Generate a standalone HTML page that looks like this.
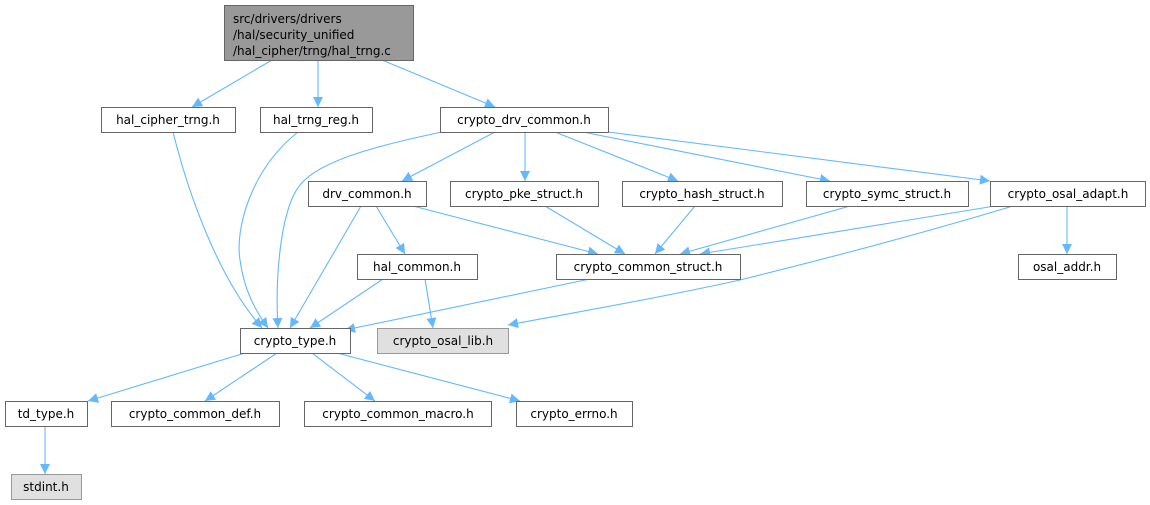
<!DOCTYPE html>
<html><head><meta charset="utf-8"><style>
html,body{margin:0;padding:0;background:#fff;width:1150px;height:505px;overflow:hidden}
text{font-family:"DejaVu Sans","Liberation Sans",sans-serif;font-size:12px;fill:#000}
</style></head><body>
<svg width="1150" height="505" viewBox="0 0 1150 505" xmlns="http://www.w3.org/2000/svg">
<defs><marker id="a" viewBox="0 0 10 10" refX="10" refY="5" markerUnits="userSpaceOnUse" markerWidth="13" markerHeight="10" orient="auto"><path d="M0,0 L10,5 L0,10 z" fill="#63b8ff"/></marker></defs>
<g fill="none" stroke="#63b8ff" stroke-width="1.1" marker-end="url(#a)">
<path d="M272,60 L192,107"/>
<path d="M318,60 L318,107"/>
<path d="M382,60 L495,107"/>
<path d="M173,132 C190,200 220,280 262,328"/>
<path d="M298,132 C250,170 235,230 240,260 C244,290 255,310 268,328"/>
<path d="M442,132 C380,145 320,160 300,185 C280,210 275,280 278,328"/>
<path d="M495,132 L402,181"/>
<path d="M525,132 L525,181"/>
<path d="M555,132 L678,181"/>
<path d="M583,132 L830,181"/>
<path d="M608,132 L990,181"/>
<path d="M361,206 L290,328"/>
<path d="M376,206 L405,254"/>
<path d="M413,206 L598,254"/>
<path d="M545,206 L625,254"/>
<path d="M695,206 L655,254"/>
<path d="M850,206 L680,254"/>
<path d="M995,206 L700,254"/>
<path d="M1013,206 C900,240 800,265 740,280 C650,300 560,315 508,325"/>
<path d="M1067,206 L1067,254"/>
<path d="M383,279 L310,328"/>
<path d="M425,279 L433,328"/>
<path d="M590,279 L345,330"/>
<path d="M245,353 L88,401"/>
<path d="M277,353 L205,401"/>
<path d="M312,353 L375,401"/>
<path d="M337,353 L520,401"/>
<path d="M45,427 L45,474"/>
</g>
<g stroke="#666" stroke-width="1" fill="#fff">
<rect x="224.5" y="5.5" width="189" height="55" fill="#999"/>
<rect x="101.5" y="107.5" width="134" height="25"/>
<rect x="260.5" y="107.5" width="112" height="25"/>
<rect x="440.5" y="107.5" width="168" height="25"/>
<rect x="308.5" y="181.5" width="118" height="25"/>
<rect x="450.5" y="181.5" width="148" height="25"/>
<rect x="622.5" y="181.5" width="160" height="25"/>
<rect x="806.5" y="181.5" width="162" height="25"/>
<rect x="990.5" y="181.5" width="155" height="25"/>
<rect x="357.5" y="254.5" width="120" height="25"/>
<rect x="556.5" y="254.5" width="184" height="25"/>
<rect x="1018.5" y="254.5" width="98" height="25"/>
<rect x="240.5" y="328.5" width="110" height="25"/>
<rect x="377.5" y="328.5" width="131" height="25" fill="#e0e0e0" stroke="#999"/>
<rect x="5.5" y="401.5" width="82" height="25"/>
<rect x="111.5" y="401.5" width="168" height="25"/>
<rect x="304.5" y="401.5" width="187" height="25"/>
<rect x="516.5" y="401.5" width="116" height="25"/>
<rect x="11.5" y="474.5" width="70" height="25" fill="#e0e0e0" stroke="#999"/>
</g>
<g style="font-size:12.5px">
<text x="233" y="23">src/drivers/drivers</text>
<text x="233" y="39">/hal/security_unified</text>
<text x="233" y="55">/hal_cipher/trng/hal_trng.c</text>
</g>
<g text-anchor="middle">
<text x="168" y="124">hal_cipher_trng.h</text>
<text x="316" y="124">hal_trng_reg.h</text>
<text x="524" y="124">crypto_drv_common.h</text>
<text x="367" y="198">drv_common.h</text>
<text x="524" y="198">crypto_pke_struct.h</text>
<text x="702" y="198">crypto_hash_struct.h</text>
<text x="887" y="198">crypto_symc_struct.h</text>
<text x="1068" y="198">crypto_osal_adapt.h</text>
<text x="417" y="271">hal_common.h</text>
<text x="648" y="271">crypto_common_struct.h</text>
<text x="1067" y="271">osal_addr.h</text>
<text x="295" y="345">crypto_type.h</text>
<text x="443" y="345">crypto_osal_lib.h</text>
<text x="46" y="418">td_type.h</text>
<text x="195" y="418">crypto_common_def.h</text>
<text x="398" y="418">crypto_common_macro.h</text>
<text x="574" y="418">crypto_errno.h</text>
<text x="46" y="491">stdint.h</text>
</g>
</svg>
</body></html>
